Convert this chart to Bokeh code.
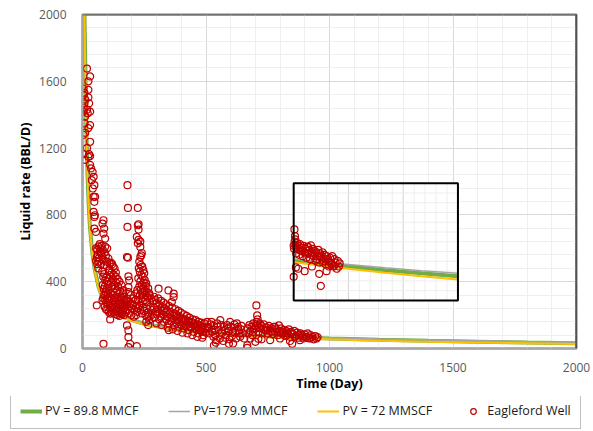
import numpy as np
from bokeh.plotting import figure
from bokeh.layouts import column
from bokeh.models import Range1d, SingleIntervalTicker, Legend, LegendItem, Span
from bokeh.embed import file_html
from bokeh.resources import INLINE

# ---------------- data ----------------
x_ticks = [0, 500, 1000, 1500, 2000]
y_ticks = [0, 400, 800, 1200, 1600, 2000]

curve_day = [2, 5, 8, 11, 15, 20, 25, 30, 40, 50, 65, 80, 100, 125, 150, 190, 250, 320, 390,
             500, 600, 700, 850, 1000, 1200, 1400, 1600, 1800, 2000]
pv_89_8 = [3500, 2400, 2000, 1730, 1350, 1050, 860, 730, 570, 470, 370, 305, 260, 225, 200, 175, 148, 128, 112,
           94, 84, 76, 67, 60, 52, 46, 41, 36, 32]
pv_179_9 = [3500, 2400, 2000, 1730, 1350, 1050, 860, 730, 570, 470, 372, 308, 264, 230, 205, 180, 153, 133, 117,
            99, 89, 81, 72, 65, 57, 51, 46, 41, 37]
pv_72 = [3400, 2350, 1950, 1690, 1320, 1030, 845, 715, 560, 460, 362, 298, 255, 220, 195, 170, 143, 123, 107,
         89, 79, 71, 62, 55, 47, 41, 36, 31, 27]

obs_early = [(18, 1676), (31, 1629), (24, 1600), (4, 1557), (24, 1549), (8, 1530), (4, 1518), (24, 1504),
             (11, 1490), (8, 1468), (27, 1468), (4, 1440), (18, 1430), (4, 1418), (31, 1418), (21, 1408),
             (11, 1390), (8, 1348), (31, 1338), (24, 1320), (11, 1292), (4, 1280), (31, 1238), (18, 1200),
             (4, 1164), (27, 1164), (31, 1152), (24, 1148), (8, 1130), (31, 1100),
             (35, 1078), (41, 1058), (45, 1028), (38, 1008), (48, 978), (42, 958), (45, 908), (51, 908),
             (48, 878), (45, 818), (50, 798), (48, 788), (85, 768), (81, 748), (88, 718), (48, 718),
             (55, 698), (85, 688), (92, 658)]

obs_first_hump = [(55, 600), (60, 590), (65, 612), (70, 580), (72, 598), (75, 570), (78, 560), (62, 560),
                  (58, 545), (66, 540), (80, 548), (85, 530), (90, 575), (95, 556), (100, 520), (105, 540),
                  (110, 508), (115, 515), (68, 520), (75, 505), (88, 500), (98, 495), (120, 505), (125, 490),
                  (55, 525), (60, 505), (82, 590), (92, 610), (100, 600), (70, 625), (78, 615), (108, 470),
                  (130, 480), (64, 480), (135, 455)]

obs_dense = [(80, 460), (84, 430), (88, 445), (92, 410), (96, 425), (100, 400), (104, 385), (108, 420),
             (112, 440), (116, 395), (120, 370), (124, 410), (128, 380), (132, 360), (136, 395), (140, 350),
             (144, 370), (148, 330), (152, 345), (156, 310), (160, 300), (164, 330), (168, 290), (172, 270),
             (82, 380), (86, 355), (90, 370), (94, 340), (98, 355), (102, 325), (106, 345), (110, 310),
             (114, 330), (118, 300), (122, 320), (126, 290), (130, 305), (134, 280), (138, 300), (142, 270),
             (146, 285), (150, 260), (154, 275), (158, 250), (162, 265), (166, 240), (170, 255), (174, 230),
             (84, 300), (88, 320), (92, 290), (96, 275), (100, 300), (104, 265), (108, 285), (112, 255),
             (116, 270), (120, 245), (124, 260), (128, 235), (132, 250), (136, 225), (140, 240), (144, 215),
             (148, 230), (152, 210), (156, 225), (160, 205), (164, 215), (168, 200),
             (90, 250), (95, 235), (100, 230), (106, 220), (112, 240), (118, 215), (126, 220), (134, 205),
             (142, 200), (150, 195),
             (110, 470), (118, 455), (126, 440), (134, 430), (142, 415), (150, 400), (158, 380), (166, 350),
             (58, 258), (85, 28), (112, 208), (112, 174), (81, 288), (186, 68), (193, 28), (220, 14),
             (186, 8), (180, 138), (186, 108)]

obs_second_hump = [(182, 978), (184, 842), (224, 842), (182, 728), (227, 744), (227, 712), (227, 650),
                   (234, 640), (224, 630), (184, 544), (240, 572), (234, 548), (224, 738), (220, 668),
                   (234, 608), (238, 558), (180, 548),
                   (230, 520), (236, 500), (242, 490), (228, 480), (246, 470), (232, 460), (250, 450),
                   (238, 440), (244, 430), (226, 420), (252, 410), (234, 400), (248, 395), (240, 380),
                   (256, 375), (230, 370), (246, 360), (236, 350), (252, 345), (260, 340), (242, 330),
                   (232, 320), (256, 320), (248, 310), (264, 305), (238, 300), (226, 290), (254, 290),
                   (244, 280), (262, 275), (270, 330), (266, 360), (258, 390), (222, 350), (218, 330),
                   (186, 432), (189, 408), (186, 368), (186, 338), (182, 298), (224, 288), (196, 320),
                   (205, 300), (215, 290),
                   (175, 290), (180, 260), (185, 280), (190, 250), (195, 270), (200, 240), (205, 260),
                   (210, 230), (215, 250), (220, 220), (178, 220), (188, 210), (198, 200), (208, 190),
                   (218, 200), (225, 240), (230, 260), (235, 230), (240, 210), (245, 245), (250, 225),
                   (255, 200), (260, 240), (265, 215), (268, 190)]

obs_mid = [(272, 320), (278, 300), (284, 280), (290, 310), (296, 290), (300, 270), (306, 300), (308, 358),
           (312, 260), (318, 285), (322, 250), (328, 275), (332, 240), (338, 265), (342, 230), (348, 348),
           (350, 255), (356, 220), (362, 278), (364, 245), (369, 328), (369, 308), (372, 210), (376, 235),
           (382, 200), (388, 225), (392, 190), (398, 215), (404, 180), (410, 205), (416, 175), (422, 195),
           (428, 165), (434, 185), (440, 160), (446, 175), (452, 150), (458, 170), (464, 145), (470, 160),
           (476, 140), (482, 155), (488, 130), (494, 150), (500, 125),
           (275, 250), (282, 230), (290, 245), (298, 220), (305, 235), (312, 210), (320, 225), (328, 200),
           (336, 215), (344, 190), (352, 205), (360, 180), (368, 195), (376, 170), (384, 185), (392, 160),
           (400, 175), (408, 150), (416, 165), (424, 140), (432, 155), (440, 130), (448, 145), (456, 120),
           (464, 135), (472, 110), (480, 125), (488, 100), (496, 115),
           (280, 200), (290, 185), (300, 205), (310, 175), (320, 190), (330, 160), (340, 175), (350, 150),
           (360, 165), (370, 140), (380, 155), (390, 130), (400, 145), (410, 120), (420, 135), (430, 110),
           (440, 125), (450, 100), (460, 115), (470, 90), (480, 105), (490, 80), (500, 95),
           (300, 150), (320, 140), (345, 125), (365, 115), (385, 105), (405, 95), (425, 90), (445, 80),
           (465, 70), (485, 65), (262, 190), (270, 170), (258, 160), (266, 140), (350, 110)]

obs_late1 = [(505, 160), (512, 120), (518, 145), (525, 100), (532, 135), (538, 80), (545, 150), (552, 110),
             (558, 170), (565, 90), (572, 130), (578, 65), (585, 140), (592, 105), (598, 160), (605, 75),
             (612, 125), (618, 95), (625, 150), (632, 110), (638, 70), (645, 135), (650, 90),
             (508, 130), (522, 160), (535, 110), (548, 130), (560, 140), (575, 110), (588, 120), (600, 130),
             (615, 145), (630, 130), (642, 115),
             (515, 90), (530, 70), (542, 50), (556, 60), (570, 45), (582, 80), (595, 55), (608, 100),
             (622, 60), (636, 90), (532, 18), (593, 28), (540, 35), (610, 30), (655, 60), (667, 18), (667, 4)]

obs_late2 = [(704, 258), (707, 198), (709, 174), (712, 58),
             (668, 120), (672, 90), (676, 140), (680, 105), (684, 130), (688, 80), (692, 150), (696, 115),
             (700, 135), (705, 160), (710, 140), (714, 100), (718, 150), (722, 120), (726, 135), (730, 95),
             (735, 145), (740, 110), (745, 125), (750, 90), (755, 135), (760, 105), (765, 120), (770, 85),
             (775, 130), (780, 100), (785, 115), (790, 80), (795, 138), (800, 105), (805, 120), (810, 90),
             (815, 110), (820, 75), (825, 105), (830, 90), (835, 115), (840, 70), (845, 100), (849, 28),
             (852, 85), (858, 105), (864, 75), (870, 95), (876, 65), (882, 90), (888, 80), (894, 60),
             (900, 85), (906, 70), (912, 90), (918, 60), (924, 80), (930, 70), (936, 55), (942, 75),
             (948, 60), (952, 68),
             (690, 100), (702, 120), (716, 125), (732, 115), (748, 110), (764, 100), (780, 130), (796, 95),
             (812, 100), (828, 80), (844, 90), (860, 70), (876, 80), (892, 72), (908, 65), (924, 62),
             (680, 60), (700, 40), (725, 55), (760, 50), (800, 60), (840, 45), (880, 50)]

obs = obs_early + obs_first_hump + obs_dense + obs_second_hump + obs_mid + obs_late1 + obs_late2
well_day = np.array([o[0] for o in obs], dtype=float)
well_rate = np.array([o[1] for o in obs], dtype=float)

# ---------------- styles ----------------
GREEN, GRAY, YELLOW, RED = "#70AD47", "#A5A5A5", "#FFC000", "#C00000"
FONT = "Open Sans"

p = figure(width=593, height=396, x_range=Range1d(0, 2000), y_range=Range1d(0, 2000),
           output_backend="svg", toolbar_location=None,
           min_border_left=82, min_border_right=17, min_border_top=14, min_border_bottom=48)
p.frame_align = False
p.background_fill_color = "white"
p.border_fill_color = "white"
p.outline_line_color = "#7a7a7a"
p.outline_line_width = 2

p.xaxis.ticker = SingleIntervalTicker(interval=500, num_minor_ticks=5)
p.yaxis.ticker = SingleIntervalTicker(interval=400, num_minor_ticks=5)
p.xgrid.grid_line_color = "#d9d9d9"
p.ygrid.grid_line_color = "#d9d9d9"
p.xgrid.minor_grid_line_color = "#efefef"
p.ygrid.minor_grid_line_color = "#efefef"

for ax in (p.xaxis[0], p.yaxis[0]):
    ax.major_tick_line_color = None
    ax.minor_tick_line_color = None
    ax.axis_line_color = "#a6a6a6"
    ax.axis_line_width = 2
    ax.major_label_text_font = FONT
    ax.major_label_text_font_size = "12px"
    ax.major_label_text_color = "#595959"
    ax.axis_label_text_font = FONT
    ax.axis_label_text_font_size = "12.5px"
    ax.axis_label_text_font_style = "bold"
    ax.axis_label_text_color = "#000000"

p.xaxis.axis_label = "Time (Day)"
p.yaxis.axis_label = "Liquid rate (BBL/D)"
p.xaxis.major_label_standoff = 8
p.xaxis.axis_label_standoff = 0
p.yaxis.major_label_standoff = 10
p.yaxis.axis_label_standoff = 2

# main curves and data
r_green = p.line(curve_day, pv_89_8, line_color=GREEN, line_width=4)
r_gray = p.line(curve_day, pv_179_9, line_color=GRAY, line_width=1.5)
r_yellow = p.line(curve_day, pv_72, line_color=YELLOW, line_width=2)
r_obs = p.scatter(well_day, well_rate, marker="circle", size=7, fill_color=None,
                  line_color=RED, line_width=1.2)

# ---------------- inset (magnified late-time view) ----------------
ins_t0, ins_t1 = 700, 1600
ins_lq0, ins_lq1 = 1.2, 3.2
bx0, bx1, by0, by1 = 855, 1520, 288, 990


def to_box(t, q):
    t = np.asarray(t, float)
    q = np.asarray(q, float)
    X = bx0 + (t - ins_t0) / (ins_t1 - ins_t0) * (bx1 - bx0)
    Y = by0 + (np.log10(q) - ins_lq0) / (ins_lq1 - ins_lq0) * (by1 - by0)
    return X, Y


p.quad(left=[bx0], right=[bx1], bottom=[by0], top=[by1], fill_color="white", line_color=None)
vx = bx0 + np.arange(1, 15) * (bx1 - bx0) / 15
vcol = ["#d4d4d4" if k % 5 == 0 else "#eeeeee" for k in range(1, 15)]
p.segment(x0=vx, x1=vx, y0=by0, y1=by1, line_color=vcol, line_width=1)
hy = by0 + np.arange(1, 12) * (by1 - by0) / 12
p.segment(x0=bx0, x1=bx1, y0=hy, y1=hy, line_color="#eeeeee", line_width=1)

cd = np.array(curve_day, float)
sel = (cd >= ins_t0) & (cd <= ins_t1)
for vals, col, lw in ((pv_89_8, GREEN, 4), (pv_179_9, GRAY, 1.5), (pv_72, YELLOW, 2)):
    X, Y = to_box(cd[sel], np.array(vals, float)[sel])
    p.line(X, Y, line_color=col, line_width=lw)

osel = (well_day >= ins_t0) & (well_day <= ins_t1)
IX, IY = to_box(well_day[osel], well_rate[osel])
p.scatter(IX, IY, marker="circle", size=7, fill_color=None, line_color=RED, line_width=1.2)
p.quad(left=[bx0], right=[bx1], bottom=[by0], top=[by1], fill_color=None, line_color="black",
       line_width=2)

# frame edges
p.add_layout(Span(location=2000, dimension="height", line_color="#262626", line_width=2))
p.add_layout(Span(location=2000, dimension="width", line_color="#6a6a6a", line_width=2))

# ---------------- legend (separate strip below) ----------------
lg = figure(width=593, height=35, x_range=Range1d(0, 1), y_range=Range1d(0, 1),
            output_backend="svg", toolbar_location=None,
            min_border_left=0, min_border_right=0, min_border_top=0, min_border_bottom=0)
lg.frame_align = False
lg.axis.visible = False
lg.grid.visible = False
lg.outline_line_color = None
lg.background_fill_color = "white"
lg.border_fill_color = "white"
l_green = lg.line([-5, -4], [-5, -4], line_color=GREEN, line_width=4)
l_gray = lg.line([-5, -4], [-5, -4], line_color=GRAY, line_width=1.5)
l_yellow = lg.line([-5, -4], [-5, -4], line_color=YELLOW, line_width=2)
l_obs = lg.scatter([-5], [-5], marker="circle", size=6, fill_color=None, line_color=RED, line_width=1.2)

legend = Legend(items=[LegendItem(label="PV = 89.8 MMCF", renderers=[l_green]),
                       LegendItem(label="PV=179.9 MMCF", renderers=[l_gray]),
                       LegendItem(label="PV = 72 MMSCF", renderers=[l_yellow]),
                       LegendItem(label="Eagleford Well", renderers=[l_obs])],
                location=(10, 2), orientation="horizontal",
                label_text_font=FONT, label_text_font_size="12.5px", label_text_color="#1a1a1a",
                glyph_width=22, glyph_height=14, label_standoff=3, spacing=30, padding=9, margin=0,
                border_line_color="#7f7f7f", border_line_width=1.5, background_fill_color="white",
                background_fill_alpha=1.0)
lg.add_layout(legend, "center")

layout = column(p, lg, spacing=0)
open("out.html", "w").write(file_html(layout, INLINE))
